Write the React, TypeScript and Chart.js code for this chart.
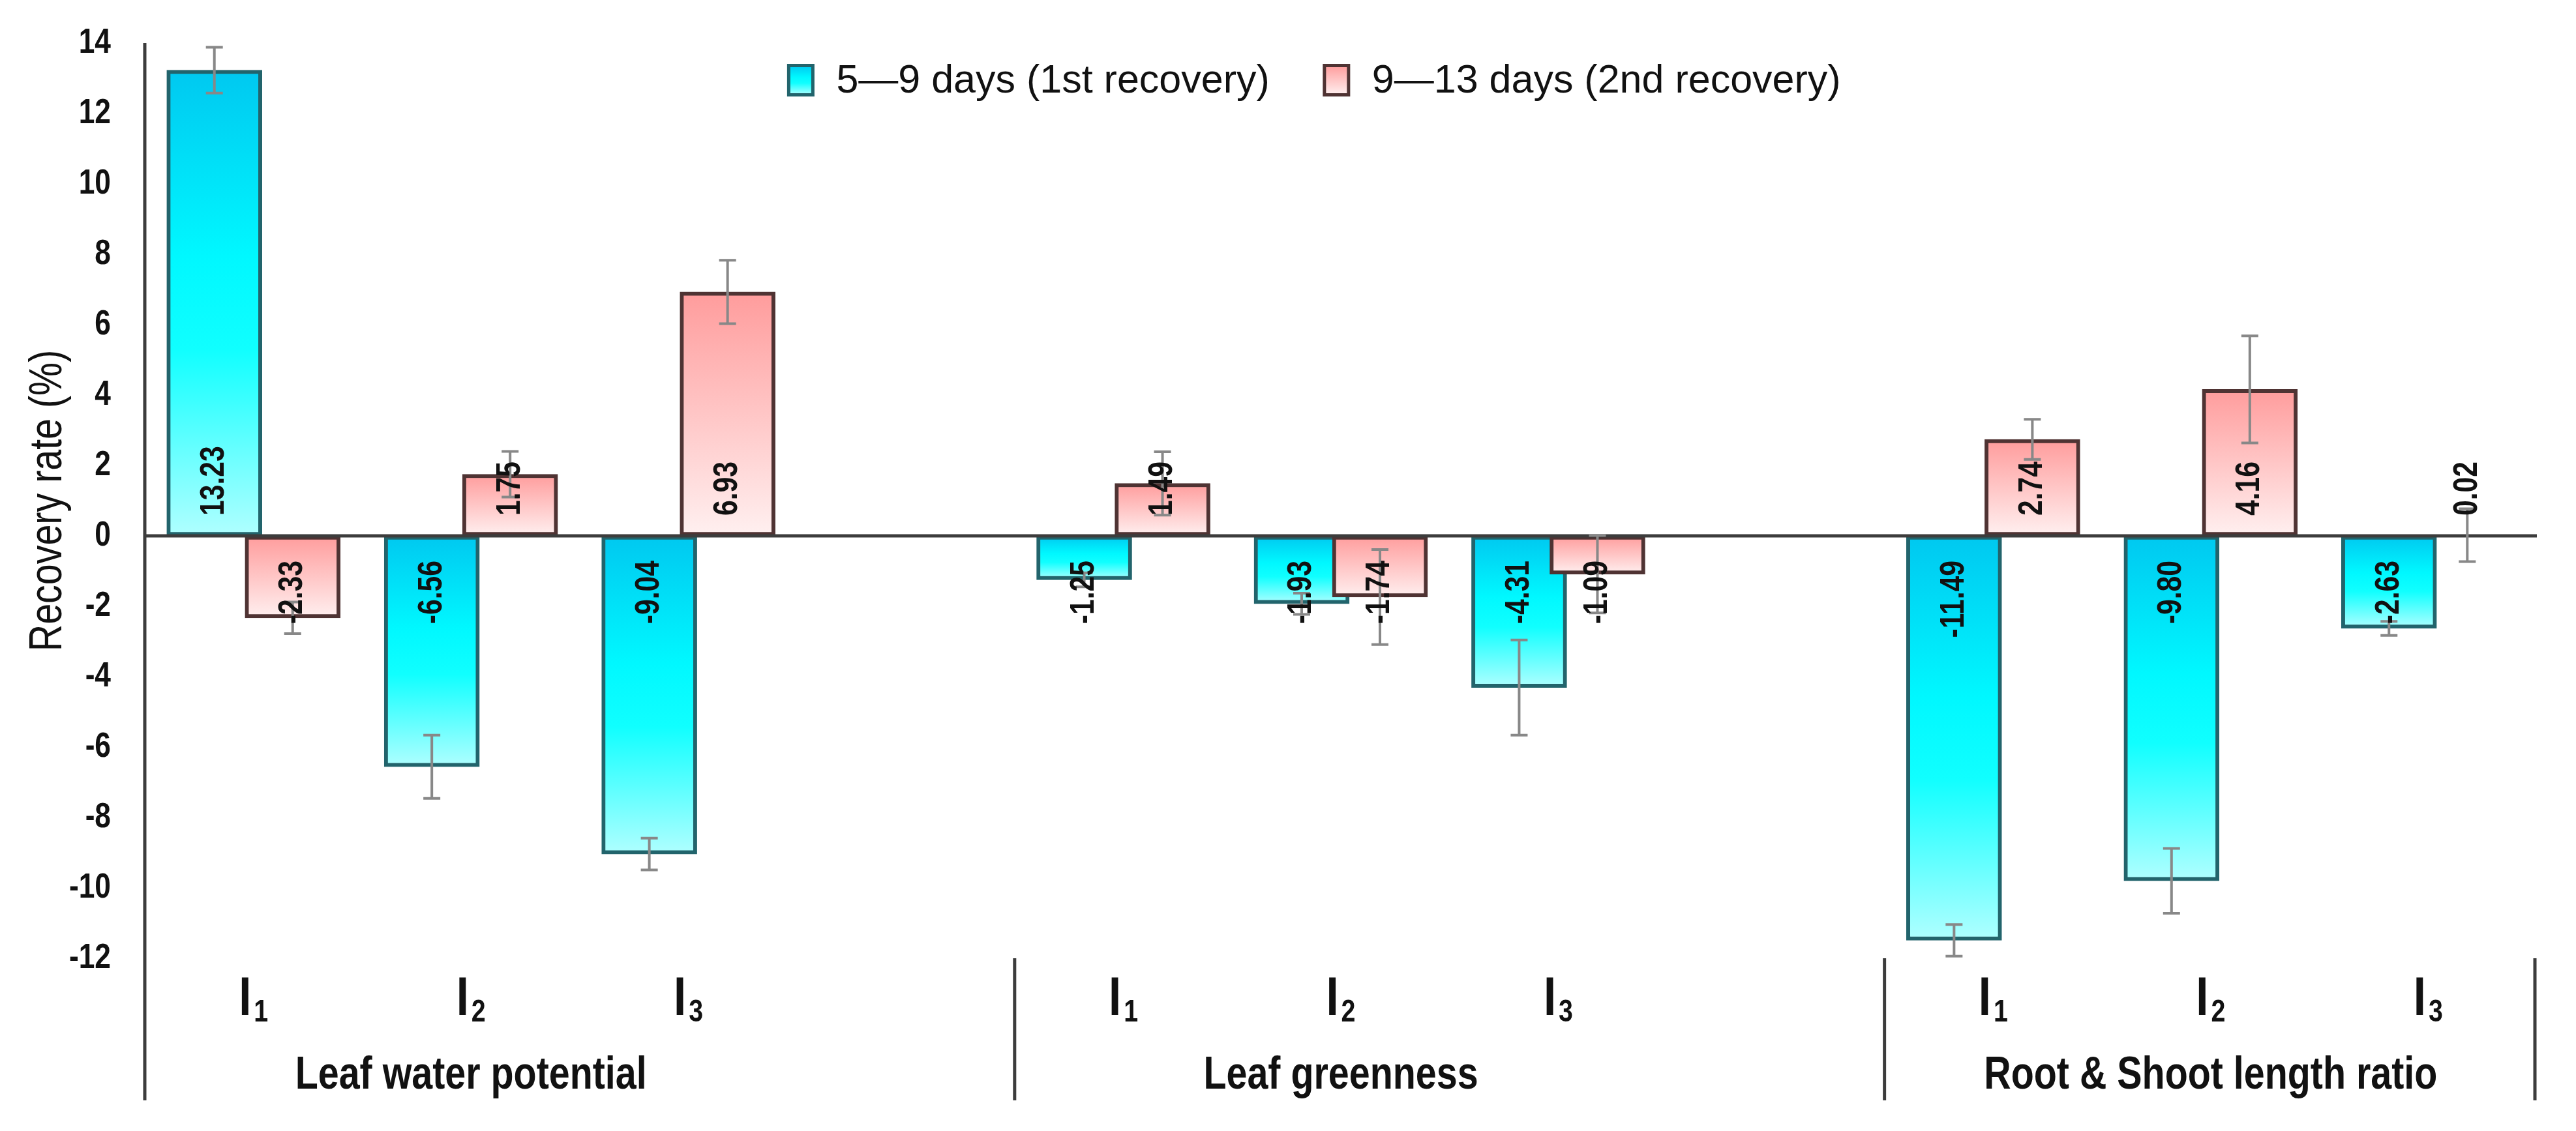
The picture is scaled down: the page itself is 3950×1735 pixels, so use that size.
import { useEffect, useRef } from 'react'
import { Chart, registerables } from 'chart.js'

Chart.register(...registerables)

// Categories
const groups = ['Leaf water potential', 'Leaf greenness', 'Root & Shoot length ratio']
const treatments = ['1', '2', '3'] // subscripts of "I"
const seriesLabels = ['5—9 days (1st recovery)', '9—13 days (2nd recovery)']

// Values, ordered group by group: I1, I2, I3
const firstRecovery = [13.23, -6.56, -9.04, -1.25, -1.93, -4.31, -11.49, -9.8, -2.63]
const secondRecovery = [-2.33, 1.75, 6.93, 1.49, -1.74, -1.09, 2.74, 4.16, 0.02]
const firstError = [0.65, 0.9, 0.45, 0.2, 0.3, 1.35, 0.45, 0.92, 0.2]
const secondError = [0.45, 0.65, 0.9, 0.9, 1.35, 1.1, 0.57, 1.52, 0.75]

// Y axis
const yMin = -12
const yMax = 14
const yStep = 2
const yTitle = 'Recovery rate (%)'

const SANS = '"Liberation Sans", Arial, sans-serif'
const NARROW = 0.82 // horizontal squeeze, the original uses a narrow face
const AXIS_COLOR = '#3c3c3c'
const TEXT_COLOR = '#111111'

const CYAN_STOPS: [number, string][] = [[0, '#00c8f0'], [0.4, '#00f8ff'], [0.6, '#10ffff'], [1, '#b0ffff']]
const RED_STOPS: [number, string][] = [[0, '#ff9c9c'], [0.5, '#ffc6c6'], [1, '#fff0f0']]

const SLOTS_PER_GROUP = treatments.length + 1 // one blank slot between groups
const X_MIN = -0.5
const X_MAX = groups.length * SLOTS_PER_GROUP - 1.5 // no blank slot after the last group
const BAR_SHIFT = 0.18

const slotOf = (i: number) => Math.floor(i / treatments.length) * SLOTS_PER_GROUP + (i % treatments.length)

const makeGradient = (ctx: CanvasRenderingContext2D, top: number, bottom: number, stops: [number, string][]) => {
  const g = ctx.createLinearGradient(0, top, 0, Math.max(bottom, top + 1))
  stops.forEach(([o, c]) => g.addColorStop(o, c))
  return g
}

const barFill = (stops: [number, string][]) => (c: any) => {
  const chart = c.chart
  if (c.type !== 'data' || !chart.chartArea) return stops[1][1]
  const y = chart.scales.y
  const p0 = y.getPixelForValue(0)
  const p1 = y.getPixelForValue(c.raw.y)
  return makeGradient(chart.ctx, Math.min(p0, p1), Math.max(p0, p1), stops)
}

// text in a squeezed face, optionally rotated to read upwards
const narrowText = (
  ctx: CanvasRenderingContext2D,
  text: string,
  x: number,
  y: number,
  font: string,
  align: CanvasTextAlign,
  baseline: CanvasTextBaseline,
  rotated = false
) => {
  ctx.save()
  ctx.translate(x, y)
  if (rotated) ctx.rotate(-Math.PI / 2)
  ctx.scale(NARROW, 1)
  ctx.font = font
  ctx.textAlign = align
  ctx.textBaseline = baseline
  ctx.fillText(text, 0, 0)
  ctx.restore()
}

const narrowWidth = (ctx: CanvasRenderingContext2D, text: string, font: string) => {
  ctx.save()
  ctx.font = font
  const w = ctx.measureText(text).width * NARROW
  ctx.restore()
  return w
}

const decorations = {
  id: 'decorations',
  afterDatasetsDraw(chart: any) {
    const { ctx, chartArea, scales } = chart
    const y = scales.y
    const zero = y.getPixelForValue(0)
    ctx.save()

    // zero axis line
    ctx.strokeStyle = AXIS_COLOR
    ctx.lineWidth = 5
    ctx.beginPath()
    ctx.moveTo(chartArea.left, zero)
    ctx.lineTo(chartArea.right, zero)
    ctx.stroke()

    // error bars
    ctx.strokeStyle = '#888888'
    ctx.lineWidth = 4
    chart.data.datasets.forEach((ds: any, di: number) => {
      chart.getDatasetMeta(di).data.forEach((bar: any, i: number) => {
        const v = ds.data[i].y
        const e = ds.errors[i]
        const t = y.getPixelForValue(v + e)
        const b = y.getPixelForValue(v - e)
        ctx.beginPath()
        ctx.moveTo(bar.x, t)
        ctx.lineTo(bar.x, b)
        ctx.moveTo(bar.x - 13, t)
        ctx.lineTo(bar.x + 13, t)
        ctx.moveTo(bar.x - 13, b)
        ctx.lineTo(bar.x + 13, b)
        ctx.stroke()
      })
    })

    // value labels, inside base, rotated
    ctx.fillStyle = TEXT_COLOR
    chart.data.datasets.forEach((ds: any, di: number) => {
      chart.getDatasetMeta(di).data.forEach((bar: any, i: number) => {
        const v = ds.data[i].y
        const up = v >= 0
        narrowText(ctx, v.toFixed(2), bar.x, up ? zero - 31 : zero + 38, `bold 52px ${SANS}`, up ? 'left' : 'right', 'middle', true)
      })
    })
    ctx.restore()
  },
  afterDraw(chart: any) {
    const { ctx, chartArea, scales } = chart
    const x = scales.x
    const y = scales.y
    const bottom = chartArea.bottom
    const bandH = 218
    ctx.save()

    // y axis line, running down through the category band
    ctx.fillStyle = AXIS_COLOR
    ctx.fillRect(chartArea.left - 2.5, chartArea.top, 5, bottom - chartArea.top + bandH)

    // group separators between groups, and a closing line at the right end
    groups.forEach((_, g) => {
      const b = Math.min((g + 1) * SLOTS_PER_GROUP - 0.5, X_MAX)
      const px = Math.min(x.getPixelForValue(b), chartArea.right - 3)
      ctx.fillRect(px - 2.5, bottom, 5, bandH)
    })

    // y tick labels and title
    ctx.fillStyle = TEXT_COLOR
    y.ticks.forEach((t: any) => {
      narrowText(ctx, String(t.value), chartArea.left - 52, y.getPixelForValue(t.value), `bold 54px ${SANS}`, 'right', 'middle')
    })
    narrowText(ctx, yTitle, 75, (chartArea.top + chartArea.bottom) / 2, `70px ${SANS}`, 'center', 'middle', true)

    // treatment labels I1, I2, I3
    const fontI = `bold 84px ${SANS}`
    const fontSub = `bold 48px ${SANS}`
    groups.forEach((_, g) => {
      treatments.forEach((sub, t) => {
        const cx = x.getPixelForValue(g * SLOTS_PER_GROUP + t)
        const wI = narrowWidth(ctx, 'I', fontI)
        const wS = narrowWidth(ctx, sub, fontSub)
        const start = cx - (wI + 4 + wS) / 2
        narrowText(ctx, 'I', start, bottom + 87, fontI, 'left', 'alphabetic')
        narrowText(ctx, sub, start + wI + 4, bottom + 97, fontSub, 'left', 'alphabetic')
      })
    })

    // group labels
    groups.forEach((name, g) => {
      const cx = x.getPixelForValue(g * SLOTS_PER_GROUP + (treatments.length - 1) / 2)
      narrowText(ctx, name, cx, bottom + 200, `bold 70px ${SANS}`, 'center', 'alphabetic')
    })

    // legend inside the plot, at the top
    ctx.font = `61px ${SANS}`
    ctx.textAlign = 'left'
    ctx.textBaseline = 'middle'
    const boxW = 37
    const boxH = 45
    const gapText = 36
    const gapItem = 84
    const widths = chart.data.datasets.map((ds: any) => ctx.measureText(ds.label).width)
    const total = widths.reduce((s: number, w: number) => s + boxW + gapText + w, 0) + gapItem
    let lx = (chartArea.left + chartArea.right) / 2 - total / 2 - 40
    const cy = chartArea.top + 57
    chart.data.datasets.forEach((ds: any, di: number) => {
      const top = cy - boxH / 2
      ctx.fillStyle = makeGradient(ctx, top, top + boxH, ds.stops)
      ctx.fillRect(lx, top, boxW, boxH)
      ctx.strokeStyle = ds.borderColor
      ctx.lineWidth = 5
      ctx.strokeRect(lx, top, boxW, boxH)
      ctx.fillStyle = TEXT_COLOR
      ctx.fillText(ds.label, lx + boxW + gapText, cy + 2)
      lx += boxW + gapText + widths[di] + gapItem
    })
    ctx.restore()
  },
}

const App = () => {
  const chartRef = useRef<HTMLCanvasElement>(null)
  const chartInstance = useRef<Chart | null>(null)

  useEffect(() => {
    document.body.style.margin = '0'
    document.body.style.overflow = 'hidden'
    document.documentElement.style.overflow = 'hidden'
    if (!chartRef.current) return
    if (chartInstance.current) chartInstance.current.destroy()

    chartInstance.current = new Chart(chartRef.current, {
      type: 'bar',
      data: {
        datasets: [
          {
            label: seriesLabels[0],
            data: firstRecovery.map((v, i) => ({ x: slotOf(i) - BAR_SHIFT, y: v })),
            errors: firstError,
            stops: CYAN_STOPS,
            backgroundColor: barFill(CYAN_STOPS),
            borderColor: '#22646c',
            order: 1,
          },
          {
            label: seriesLabels[1],
            data: secondRecovery.map((v, i) => ({ x: slotOf(i) + BAR_SHIFT, y: v })),
            errors: secondError,
            stops: RED_STOPS,
            backgroundColor: barFill(RED_STOPS),
            borderColor: '#4f3333',
            order: 0,
          },
        ] as any,
      },
      options: {
        animation: false,
        responsive: true,
        maintainAspectRatio: false,
        devicePixelRatio: 1,
        layout: { padding: { top: 66, right: 60, bottom: 265, left: 0 } },
        datasets: {
          bar: {
            grouped: false,
            barThickness: 146,
            borderWidth: 6,
            borderSkipped: false,
          },
        },
        plugins: {
          legend: { display: false },
          tooltip: { enabled: false },
        },
        scales: {
          x: { type: 'linear', min: X_MIN, max: X_MAX, offset: false, display: false, grid: { offset: false } },
          y: {
            min: yMin,
            max: yMax,
            afterFit: (scale: any) => {
              scale.width = 222
            },
            ticks: { stepSize: yStep, display: false },
            grid: { display: false, drawTicks: false },
            border: { display: false },
          },
        },
      } as any,
      plugins: [decorations],
    })

    return () => {
      if (chartInstance.current) {
        chartInstance.current.destroy()
        chartInstance.current = null
      }
    }
  }, [])

  return (
    <div style={{ width: '100vw', height: '100vh', position: 'relative' }}>
      <canvas ref={chartRef}></canvas>
    </div>
  )
}

export default App
